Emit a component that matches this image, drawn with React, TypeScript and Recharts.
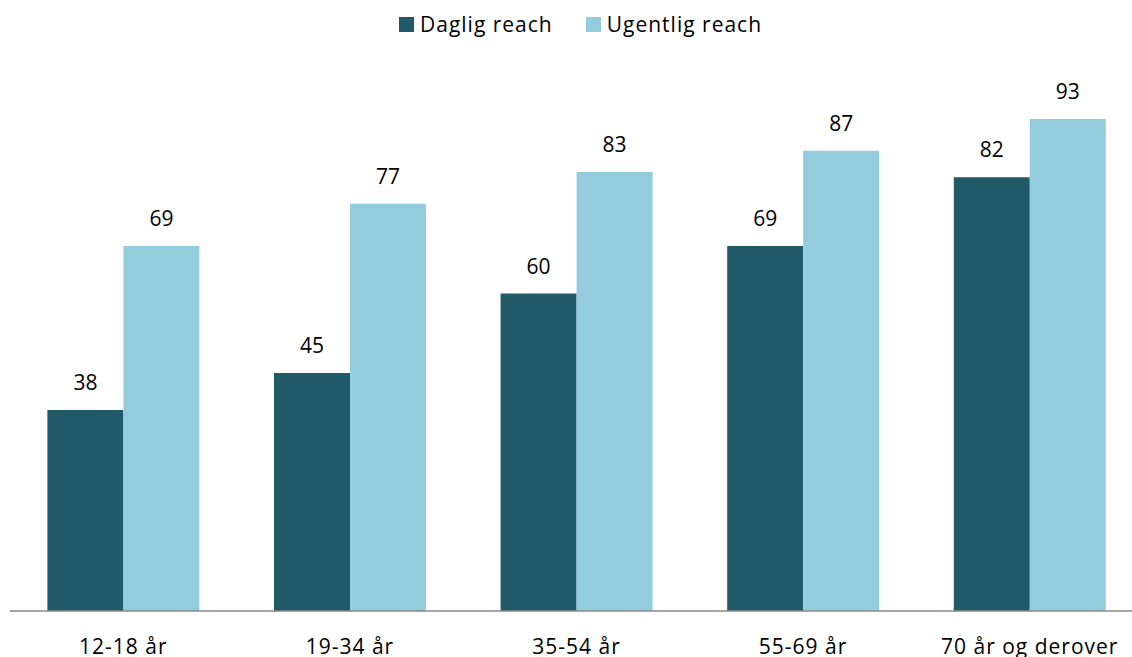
import React from "react";
import {
  BarChart,
  Bar,
  XAxis,
  YAxis,
  Legend,
  LabelList,
} from "recharts";

const categories = ["12-18 år", "19-34 år", "35-54 år", "55-69 år", "70 år og derover"];
const dagligReach = [38, 45, 60, 69, 82];
const ugentligReach = [69, 77, 83, 87, 93];

const seriesNames = ["Daglig reach", "Ugentlig reach"];
const seriesColors = ["#215968", "#93CDDD"];

const data = categories.map((name, i) => ({
  name,
  daglig: dagligReach[i],
  ugentlig: ugentligReach[i],
}));

const FONT = "'Open Sans', sans-serif";
const FS = 21;

// legend drawn by hand so spacing matches the original
const renderLegend = () => (
  <div style={{ display: "flex", justifyContent: "center", alignItems: "center", fontFamily: FONT, fontSize: FS, letterSpacing: 1, color: "#000" }}>
    {seriesNames.map((n, i) => (
      <div key={n} style={{ display: "flex", alignItems: "center", marginRight: i === 0 ? 33 : 0 }}>
        <span style={{ display: "inline-block", width: 15, height: 15, background: seriesColors[i], marginRight: 6 }} />
        <span>{n}</span>
      </div>
    ))}
  </div>
);

const App: React.FC = () => {
  return (
    <div style={{ position: "absolute", left: 0, top: 0, width: 1132, height: 657, overflow: "hidden", background: "#fff" }}>
      <BarChart
        width={1132}
        height={657}
        data={data}
        margin={{ top: 52, right: -11, left: 10, bottom: 0 }}
        barCategoryGap="16.5%"
        barGap={0}
        style={{ fontFamily: FONT }}
      >
        <XAxis
          dataKey="name"
          axisLine={{ stroke: "#898989", strokeWidth: 1.5 }}
          tickLine={false}
          tickMargin={22}
          height={46}
          interval={0}
          tick={{ fontSize: FS, fill: "#000", fontFamily: FONT, letterSpacing: 1 }}
        />
        <YAxis hide domain={[0, 100]} />
        <Legend
          verticalAlign="top"
          content={renderLegend}
          wrapperStyle={{ position: "absolute", top: 10, left: 0, width: 1161, height: 30 }}
        />
        <Bar dataKey="daglig" name={seriesNames[0]} fill={seriesColors[0]} isAnimationActive={false}>
          <LabelList dataKey="daglig" position="top" offset={20} style={{ fontSize: FS, fill: "#000", fontFamily: FONT }} />
        </Bar>
        <Bar dataKey="ugentlig" name={seriesNames[1]} fill={seriesColors[1]} isAnimationActive={false}>
          <LabelList dataKey="ugentlig" position="top" offset={20} style={{ fontSize: FS, fill: "#000", fontFamily: FONT }} />
        </Bar>
      </BarChart>
    </div>
  );
};

export default App;
